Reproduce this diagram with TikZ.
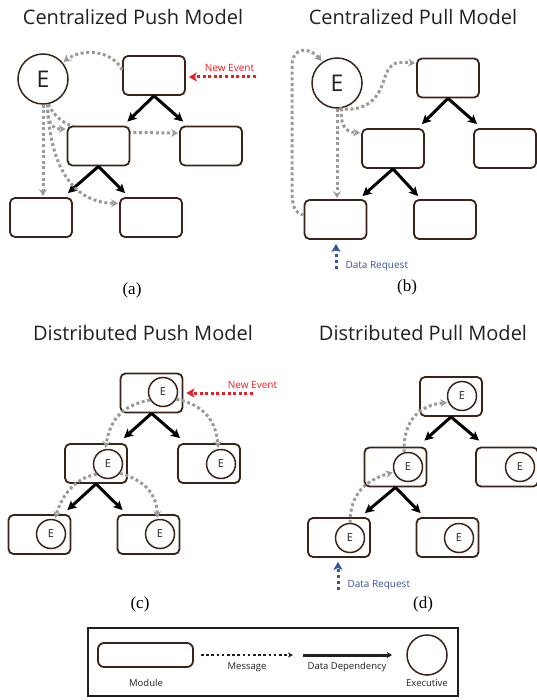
\documentclass[tikz,border=0pt]{standalone}
\usepackage{fontspec}
\setmainfont{Open Sans}
\newfontfamily\capfont{Liberation Serif}
\usetikzlibrary{arrows.meta,calc,backgrounds}
\definecolor{modbrown}{HTML}{3B2417}
\definecolor{msggray}{HTML}{9A9A9A}
\definecolor{evred}{HTML}{EE1C25}
\definecolor{reqblue}{HTML}{3953A4}
\definecolor{txtdark}{HTML}{231F20}
\tikzset{
  module/.style={draw=modbrown, line width=1.8pt, rounded corners=5pt, fill=white,
    minimum width=62pt, minimum height=39pt, inner sep=0pt},
  bigexec/.style={circle, draw=modbrown, line width=1.5pt, fill=white, minimum size=50pt,
    inner sep=0pt, text=txtdark, font=\fontsize{23}{23}\selectfont},
  smallexec/.style={circle, draw=modbrown, line width=1.5pt, fill=white, minimum size=29pt,
    inner sep=0pt, text=txtdark, font=\fontsize{11}{11}\selectfont},
  msg/.style={draw=msggray, line width=3pt, dash pattern=on 3pt off 2.6pt,
    -{Stealth[length=7pt,width=8pt,inset=2.5pt,fill=msggray]}, shorten >=1pt},
  dep/.style={draw=black, line width=3pt, -{Stealth[length=9pt,width=9pt,inset=2pt]}},
  evt/.style={draw=evred, line width=3pt, dash pattern=on 3pt off 2.6pt,
    -{Stealth[length=8pt,width=9pt,inset=2pt]}, shorten >=3pt},
  req/.style={draw=reqblue, line width=3pt, dash pattern=on 3pt off 3pt,
    -{Stealth[length=8pt,width=9pt,inset=2pt]}, shorten >=4pt},
  ttl/.style={text=txtdark, font=\fontsize{20}{20}\selectfont},
  captext/.style={text=black, font=\capfont\fontsize{17}{17}\selectfont},
  evlabel/.style={text=evred, font=\fontsize{10}{10}\selectfont},
  reqlabel/.style={text=reqblue, font=\fontsize{10}{10}\selectfont, anchor=west},
  leglabel/.style={text=txtdark, font=\fontsize{9.5}{9.5}\selectfont},
}
\begin{document}
\begin{tikzpicture}[x=1pt,y=-1pt]
\useasboundingbox (0,0) rectangle (537,700);

% ---------------- (a) Centralized Push ----------------
\node[ttl] (ta) at (133,17) {Centralized Push Model};
\node[captext] (ca) at (132,290) {(a)};
\node[bigexec] (Ea) at (43,79) {E};
\node[module] (a1) at (154,75.5) {};
\node[module] (a2) at (98.5,146) {};
\node[module] (a3) at (211,146) {};
\node[module] (a4) at (41,217.5) {};
\node[module] (a5) at (151,217.5) {};
\begin{scope}[on background layer]
  \draw[msg] (Ea.-78) .. controls (55,118) and (68,130) .. (100,132) -- (a3.158);
\end{scope}
\draw[dep] (a1.south) -- ($(a2.north east)+(-3,-4)$);
\draw[dep] (a1.south) -- ($(a3.north west)+(4,-4)$);
\draw[dep] (a2.south) -- ($(a4.north east)+(-5,-4)$);
\draw[dep] (a2.south) -- ($(a5.north west)+(6,-4)$);
\draw[msg] (a1.170) .. controls (112,50) and (82,48) .. (Ea.40);
\draw[msg] (Ea.south) -- (Ea.south |- a4.north);
\draw[msg] (Ea.-80) .. controls (47,124) and (53,129) .. (a2.152);
\draw[msg] (Ea.-80) .. controls (50,170) and (75,203) .. (a5.156);
\coordinate (nea) at (256,77);
\draw[evt] (nea) -- (nea -| a1.east);
\node[evlabel] (nela) at (229.5,67.5) {New Event};

% ---------------- (b) Centralized Pull ----------------
\node[ttl] (tb) at (413,17) {Centralized Pull Model};
\node[captext] (cb) at (407,287) {(b)};
\node[bigexec] (Eb) at (337,83) {E};
\node[module] (b1) at (448,78) {};
\node[module] (b2) at (393,148.5) {};
\node[module] (b3) at (505,148.5) {};
\node[module] (b4) at (335.5,219.5) {};
\node[module] (b5) at (445,219.5) {};
\draw[dep] (b1.south) -- ($(b2.north east)+(-3,-4)$);
\draw[dep] (b1.south) -- ($(b3.north west)+(4,-4)$);
\draw[dep] (b2.south) -- ($(b4.north east)+(-5,-3)$);
\draw[dep] (b2.south) -- ($(b5.north west)+(5,-3)$);
\draw[msg] (b4.172) .. controls (294,213) and (292,205) .. (292,190) -- (292,66)
   .. controls (292,46) and (310,47) .. (Eb.125);
\draw[msg] (Eb.-85) .. controls (365,112) and (378,100) .. (384,80)
   .. controls (390,60) and (398,62) .. (b1.155);
\draw[msg] (Eb.south) -- (Eb.south |- b4.north);
\draw[msg] (Eb.-80) .. controls (340,125) and (345,132) .. (b2.154);
\coordinate (rqb) at (336,269);
\draw[req] (rqb) -- (rqb |- b4.south);
\node[reqlabel] (rlb) at (342,266) {Data Request};

% ---------------- (c) Distributed Push ----------------
\node[ttl] (tc) at (143,333) {Distributed Push Model};
\node[captext] (cc) at (140,604) {(c)};
\node[module] (c1) at (151.5,393) {};
\node[module] (c2) at (96,463.5) {};
\node[module] (c3) at (209,463.5) {};
\node[module] (c4) at (39.5,534.5) {};
\node[module] (c5) at (148.5,534.5) {};
\node[smallexec] (Ec1) at (163,392) {E};
\node[smallexec] (Ec2) at (108,464) {E};
\node[smallexec] (Ec3) at (221,464) {E};
\node[smallexec] (Ec4) at (51,534) {E};
\node[smallexec] (Ec5) at (160,534) {E};
\draw[dep] (c1.south) -- ($(c2.north east)+(-4,-5)$);
\draw[dep] (c1.south) -- ($(c3.north west)+(3,-5)$);
\draw[dep] (c2.south) -- ($(c4.north east)+(-4,-4)$);
\draw[dep] (c2.south) -- ($(c5.north west)+(6,-4)$);
\draw[msg] (Ec1.212) .. controls (122,405) and (110,420) .. (Ec2.100);
\draw[msg] (Ec1.-28) .. controls (205,405) and (216,422) .. (Ec3.100);
\draw[msg] (Ec2.222) .. controls (75,478) and (62,495) .. (Ec4.75);
\draw[msg] (Ec2.-38) .. controls (145,480) and (157,495) .. (Ec5.100);
\coordinate (nec) at (253,393);
\draw[evt] (nec) -- (nec -| c1.east);
\node[evlabel] (nelc) at (252.5,385) {New Event};

% ---------------- (d) Distributed Pull ----------------
\node[ttl] (td) at (423,333) {Distributed Pull Model};
\node[captext] (cd) at (423,604) {(d)};
\node[module] (d1) at (451,396.5) {};
\node[module] (d2) at (395.5,467) {};
\node[module] (d3) at (507,467) {};
\node[module] (d4) at (339,537.5) {};
\node[module] (d5) at (447.5,537.5) {};
\node[smallexec] (Ed1) at (462,396) {E};
\node[smallexec] (Ed2) at (408,467) {E};
\node[smallexec] (Ed3) at (520,467) {E};
\node[smallexec] (Ed4) at (350,538) {E};
\node[smallexec] (Ed5) at (459,538) {E};
\draw[dep] (d1.south) -- ($(d2.north east)+(-3,-6)$);
\draw[dep] (d1.south) -- ($(d3.north west)+(4,-6)$);
\draw[dep] (d2.south) -- ($(d4.north east)+(-6,-4)$);
\draw[dep] (d2.south) -- ($(d5.north west)+(5,-4)$);
\draw[msg] (Ed4.north) .. controls (350,495) and (365,480) .. (Ed2.200);
\draw[msg] (Ed2.105) .. controls (403,420) and (420,405) .. (Ed1.205);
\coordinate (rqd) at (338,590);
\draw[req] (rqd) -- (rqd |- d4.south);
\node[reqlabel] (rld) at (344,585) {Data Request};

% ---------------- Legend ----------------
\node[draw=txtdark, line width=1.5pt, minimum width=370pt, minimum height=68pt, inner sep=0pt]
  (leg) at (273,662) {};
\node[module, minimum width=95pt, minimum height=24pt, rounded corners=6pt] (lm) at (145.5,655) {};
\node[leglabel] (lml) at (146,683) {Module};
\coordinate (lms) at (201,655);
\coordinate (lme) at (293,655);
\draw[draw=txtdark, line width=2.5pt, dash pattern=on 2.6pt off 2.6pt,
   -{Stealth[length=5pt,width=5pt,inset=1.5pt]}] (lms) -- (lme);
\node[leglabel] (lmsl) at (247,667) {Message};
\coordinate (lds) at (303,655);
\coordinate (lde) at (392,655);
\draw[draw=txtdark, line width=3pt, -{Stealth[length=5pt,width=6pt,inset=1pt]}] (lds) -- (lde);
\node[leglabel] (ldl) at (347,667) {Data Dependency};
\node[circle, draw=modbrown, line width=1.5pt, minimum size=40pt, inner sep=0pt] (le) at (427,655) {};
\node[leglabel] (lel) at (427,683) {Executive};
\end{tikzpicture}
\end{document}
